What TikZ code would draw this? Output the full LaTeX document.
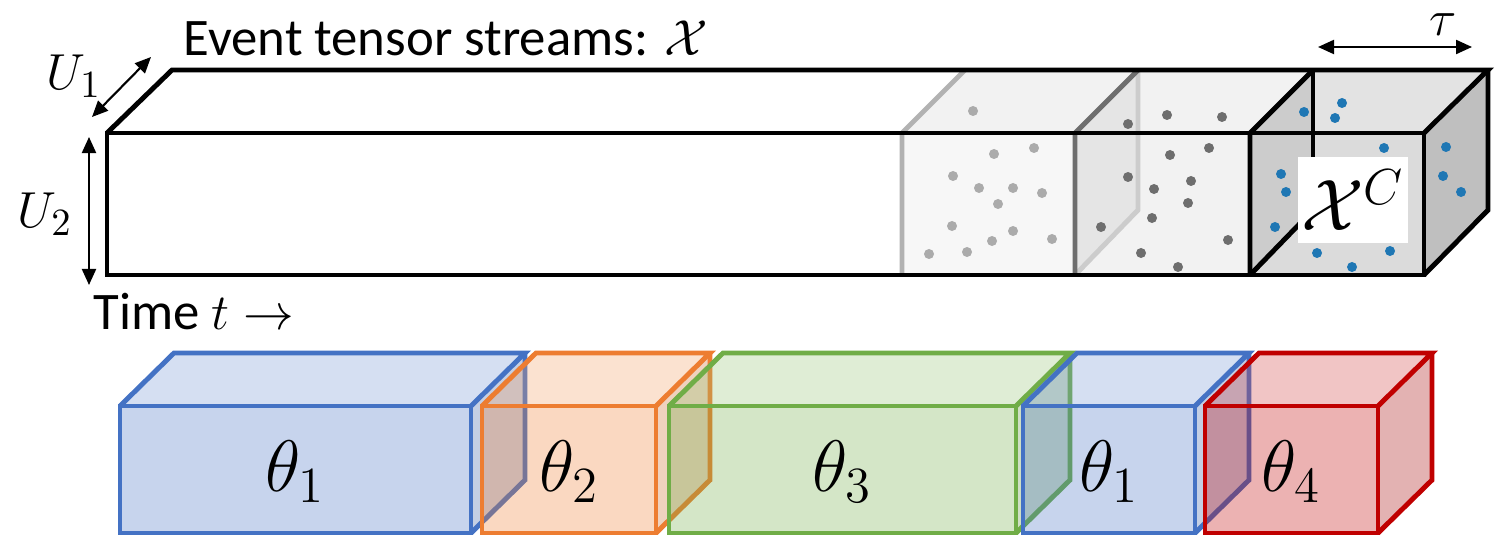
\documentclass[tikz,border=0pt]{standalone}
\usepackage{amsmath,amssymb}
\usepackage{fontspec}
\setmainfont{Carlito}
\usetikzlibrary{arrows.meta}
\definecolor{SegBlue}{HTML}{4472C4}
\definecolor{SegOrange}{HTML}{ED7D31}
\definecolor{SegGreen}{HTML}{70AD47}
\definecolor{SegRed}{HTML}{C00000}
\definecolor{DotLight}{HTML}{ABABAB}
\definecolor{DotDark}{HTML}{6E6E6E}
\definecolor{DotBlue}{HTML}{1F77B4}

\begin{document}
\begin{tikzpicture}[
    x=0.01cm, y=-0.01cm,
    edge/.style={line width=1.4pt, line join=miter},
    dimarrow/.style={{Triangle[length=1.6mm, width=1.4mm]}-{Triangle[length=1.6mm, width=1.4mm]}, line width=0.6pt},
    caption/.style={font=\fontsize{15}{18}\selectfont, inner sep=0pt},
    theta/.style={font=\fontsize{22}{26}\selectfont, inner sep=0pt},
    labelbox/.style={fill=white, minimum width=1.1cm, minimum height=0.85cm, inner sep=0pt, font=\fontsize{20}{24}\selectfont}
  ]
    \useasboundingbox (0,0) rectangle (1498,537);

    % stream: faces
    \fill[white] (107,133) -- (172,70) -- (1488,70) -- (1424,133) -- cycle;
    \fill[gray!10] (902,133) -- (965,70) -- (1313,70) -- (1250,133) -- cycle;
    \fill[gray!22] (1250,133) -- (1313,70) -- (1488,70) -- (1424,133) -- cycle;
    \fill[gray!6] (902,133) rectangle (1075,275);
    \fill[gray!10] (1075,133) rectangle (1250,275);
    \fill[gray!20] (1075,133) -- (1138,70) -- (1138,210) -- (1075,275) -- cycle;
    \fill[gray!28] (1250,133) rectangle (1424,275);
    \fill[gray!40] (1250,133) -- (1313,70) -- (1313,210) -- (1250,275) -- cycle;
    \fill[gray!50] (1424,133) -- (1488,70) -- (1488,210) -- (1424,275) -- cycle;

    % events
    \foreach \px/\py in {973/111, 1034/148, 994/154, 953/176, 979/188, 1013/188, 1042/193,
        998/204, 952/226, 1013/231, 992/241, 1052/239, 967/252, 929/254}
      \fill[DotLight] (\px,\py) circle[radius=0.5mm];
    \foreach \px/\py in {1128/124, 1167/115, 1222/117, 1170/155, 1209/148, 1128/177, 1154/189,
        1191/181, 1188/203, 1152/218, 1101/227, 1228/240, 1141/253, 1178/267}
      \fill[DotDark] (\px,\py) circle[radius=0.5mm];
    \foreach \px/\py in {1304/112, 1342/103, 1335/118, 1384/148, 1446/147, 1281/174, 1286/192,
        1443/176, 1461/192, 1275/227, 1317/253, 1352/267, 1390/251}
      \fill[DotBlue] (\px,\py) circle[radius=0.5mm];

    % stream: edges
    \draw[edge, gray!40] (1138,70) -- (1138,210) -- (1075,275);
    \draw[edge, gray!60] (902,275) -- (902,133) -- (965,70);
    \draw[edge, DotDark] (1075,275) -- (1075,133) -- (1138,70);
    \draw[line width=1pt] (1313,70) -- (1313,210);
    \draw[edge] (1313,210) -- (1250,275);
    \draw[edge] (1250,275) -- (1250,133) -- (1313,70);
    \draw[edge] (107,133) rectangle (1424,275);
    \draw[edge] (107,133) -- (172,70) -- (1488,70) -- (1424,133);
    \draw[edge] (1488,70) -- (1488,210) -- (1424,275);

    \node[labelbox] (xc) at (1353,200) {$\mathcal{X}^C$};

    % labels and sizes
    \node[caption, anchor=west] (title) at (183,38) {Event tensor streams: $\mathcal{X}$};
    \node[caption, anchor=west] (time) at (93,312) {Time $t \rightarrow$};
    \node[caption] (u1) at (74,76) {$U_1$};
    \node[caption] (u2) at (45,214) {$U_2$};
    \node[caption] (tau) at (1443,25) {$\tau$};

    \coordinate (u1a) at (92,117);
    \coordinate (u1b) at (151,57);
    \coordinate (u2a) at (89,137);
    \coordinate (u2b) at (89,285);
    \coordinate (taua) at (1318,47);
    \coordinate (taub) at (1472,47);
    \draw[dimarrow] (u1a) -- (u1b);
    \draw[dimarrow] (u2a) -- (u2b);
    \draw[dimarrow] (taua) -- (taub);

    % segments
    \foreach \xa/\xb/\lab/\col [count=\i] in {120/471/1/SegBlue, 482/656/2/SegOrange,
        669/1016/3/SegGreen, 1023/1195/1/SegBlue, 1205/1378/4/SegRed} {
      \fill[\col, fill opacity=0.3] (\xa,406) rectangle (\xb,533);
      \fill[\col!75!white, fill opacity=0.3] (\xa,406) -- (\xa+54,353) -- (\xb+54,353) -- (\xb,406) -- cycle;
      \fill[\col!85!black, fill opacity=0.3] (\xb,406) -- (\xb+54,353) -- (\xb+54,480) -- (\xb,533) -- cycle;
      \draw[edge, \col] (\xa,406) rectangle (\xb,533);
      \draw[edge, \col] (\xa,406) -- (\xa+54,353) -- (\xb+54,353) -- (\xb,406);
      \draw[edge, \col] (\xb+54,353) -- (\xb+54,480) -- (\xb,533);
      \node[theta] (seg\i) at ({(\xa+\xb)/2},472) {$\theta_{\lab}$};
    }
\end{tikzpicture}
\end{document}
